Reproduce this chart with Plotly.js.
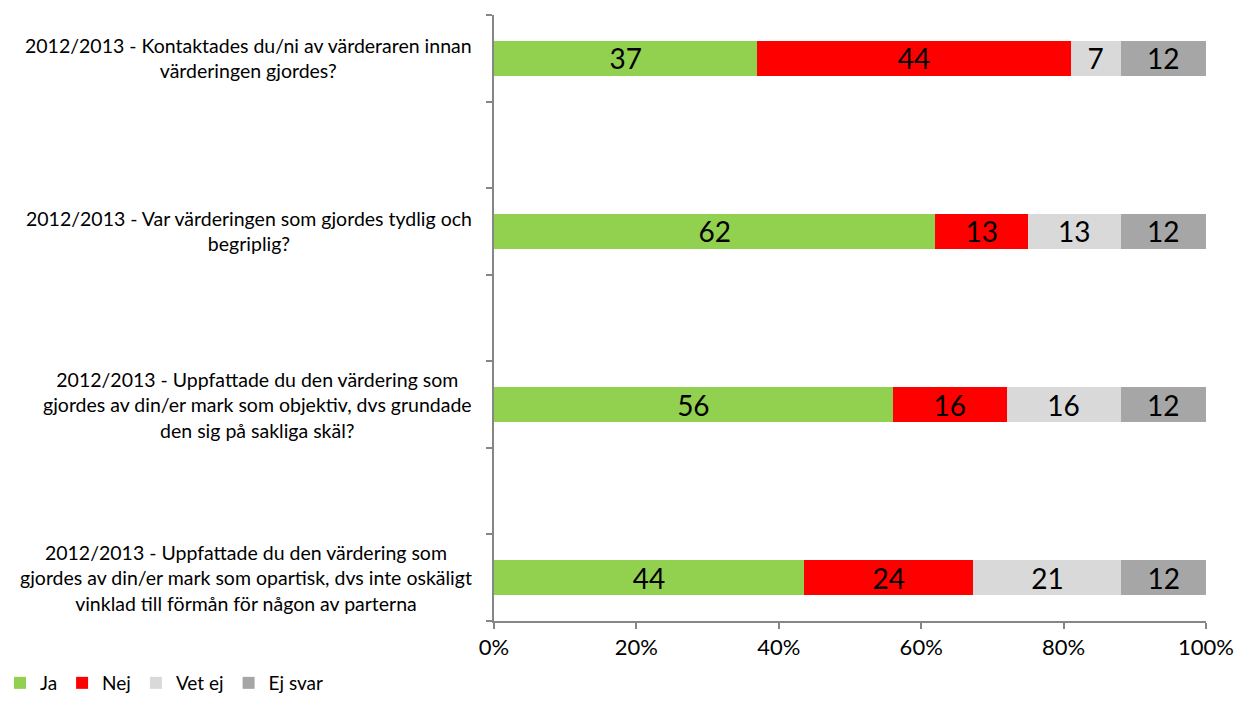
<!DOCTYPE html>
<html>
<head>
<meta charset="utf-8">
<script src="https://cdn.plot.ly/plotly-3.0.1.min.js"></script>
<style>html,body{margin:0;padding:0;background:#fff;}#chart{width:1239px;height:702px;}</style>
</head>
<body>
<div id="chart"></div>
<script>
var questions = [
  "2012/2013 - Kontaktades du/ni av värderaren innan<br>värderingen gjordes?",
  "2012/2013 - Var värderingen som gjordes tydlig och<br>begriplig?",
  "2012/2013 - Uppfattade du den värdering som<br>gjordes av din/er mark som objektiv, dvs grundade<br>den sig på sakliga skäl?",
  "2012/2013 - Uppfattade du den värdering som<br>gjordes av din/er mark som opartisk, dvs inte oskäligt<br>vinklad till förmån för någon av parterna"
];
var positions = [0, 2, 4, 6];
var ja = [37, 62, 56, 44];
var nej = [44, 13, 16, 24];
var vetEj = [7, 13, 16, 21];
var ejSvar = [12, 12, 12, 12];
var seriesNames = ["Ja", "Nej", "Vet ej", "Ej svar"];
var seriesColors = ["#92D050", "#FF0000", "#D9D9D9", "#A6A6A6"];
var xTickVals = [0, 20, 40, 60, 80, 100];
var xTickText = ["0%", "20%", "40%", "60%", "80%", "100%"];
var boundaries = [-0.5, 0.5, 1.5, 2.5, 3.5, 4.5, 5.5, 6.5];

var FONT = "Lato, 'Open Sans', sans-serif";
var allSeries = [ja, nej, vetEj, ejSvar];
var traces = allSeries.map(function (vals, i) {
  return {
    type: "bar",
    orientation: "h",
    name: seriesNames[i],
    x: vals,
    y: positions,
    width: 0.4,
    marker: { color: seriesColors[i], line: { width: 0 } },
    text: vals.map(String),
    textposition: "inside",
    insidetextanchor: "middle",
    textangle: 0,
    constraintext: "none",
    textfont: { family: FONT, size: 28, color: "#000" },
    hoverinfo: "x+name"
  };
});

var annotations = questions.map(function (q, i) {
  return {
    xref: "paper", yref: "y",
    x: -0.028, y: positions[i],
    xanchor: "right", yanchor: "middle",
    align: "center",
    text: q,
    showarrow: false,
    font: { family: FONT, size: 19.5, color: "#000" }
  };
});

var layout = {
  width: 1239, height: 702,
  margin: { l: 494, r: 33, t: 15, b: 81 },
  paper_bgcolor: "#fff", plot_bgcolor: "#fff",
  barmode: "stack",
  barnorm: "percent",
  showlegend: true,
  legend: {
    orientation: "h",
    xref: "container", yref: "paper",
    x: 0.0, y: -0.117, xanchor: "left", yanchor: "middle",
    font: { family: FONT, size: 19, color: "#000" },
    traceorder: "normal",
    itemwidth: 30,
    tracegroupgap: 0
  },
  xaxis: {
    range: [0, 100],
    tickmode: "array", tickvals: xTickVals, ticktext: xTickText,
    showgrid: false, zeroline: false,
    showline: true, linecolor: "#868686", linewidth: 2,
    ticks: "outside", ticklen: 6, tickcolor: "#868686", tickwidth: 2,
    tickfont: { family: FONT, size: 22, color: "#000" },
    fixedrange: true
  },
  yaxis: {
    range: [6.5, -0.5],
    showticklabels: false,
    tickmode: "array", tickvals: boundaries,
    ticks: "outside", ticklen: 6, tickcolor: "#868686", tickwidth: 2,
    showgrid: false, zeroline: false,
    showline: true, linecolor: "#868686", linewidth: 2,
    fixedrange: true
  },
  annotations: annotations
};

Plotly.newPlot("chart", traces, layout, { displayModeBar: false, staticPlot: true });
</script>
</body>
</html>
